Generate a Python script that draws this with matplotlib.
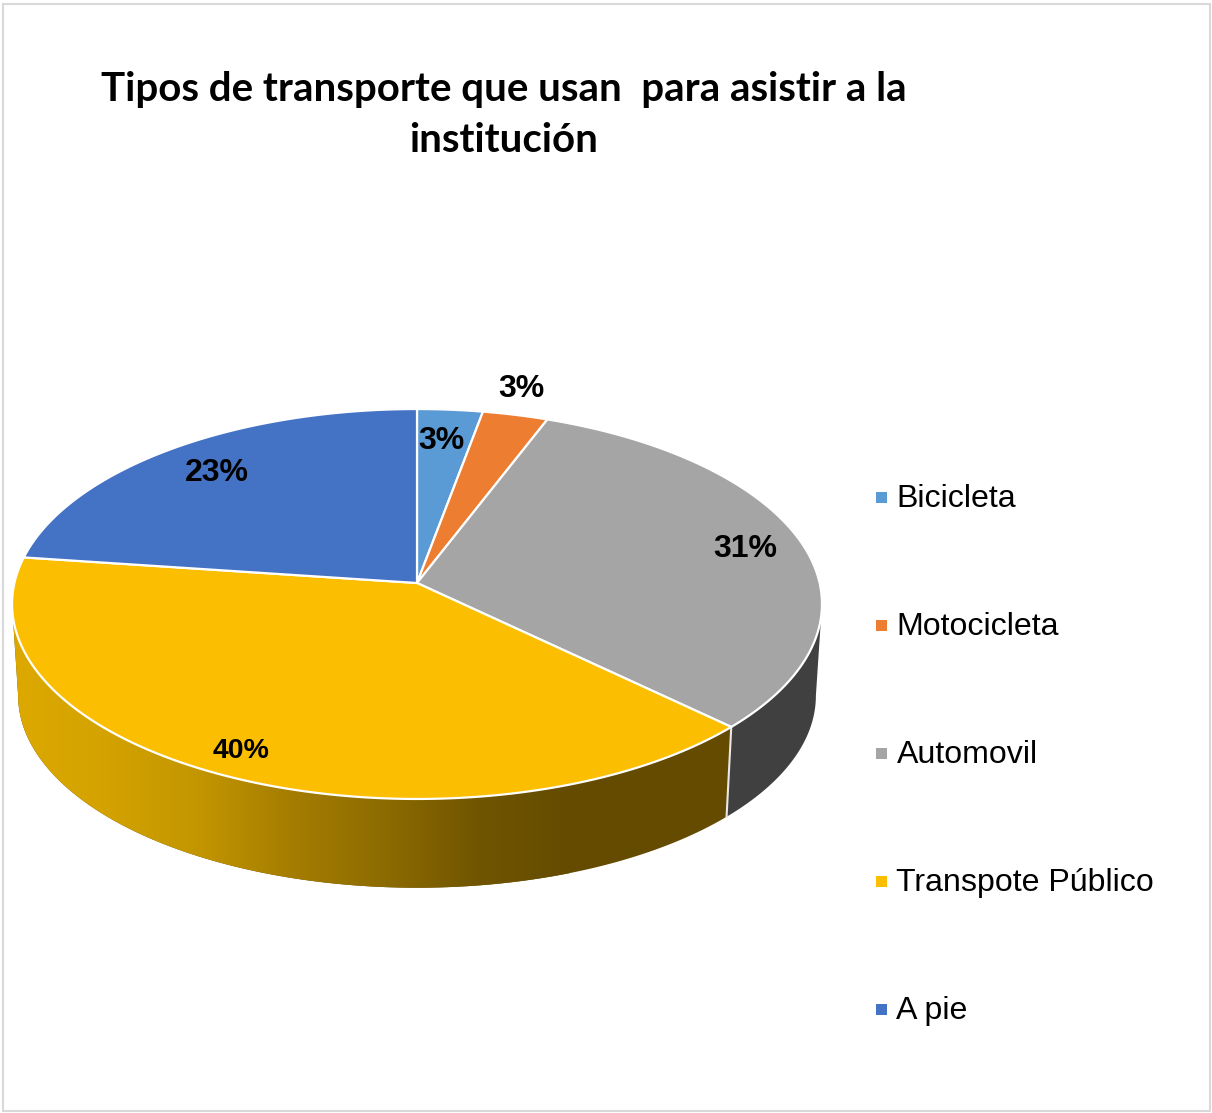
import numpy as np
import matplotlib
matplotlib.use("Agg")
import matplotlib.pyplot as plt
from matplotlib.colors import LinearSegmentedColormap
from matplotlib.patches import Polygon, Rectangle

# data
categories = ["Bicicleta", "Motocicleta", "Automovil", "Transpote Público", "A pie"]
values = [2.9, 2.9, 31.35, 40, 22.85]
labels = ["3%", "3%", "31%", "40%", "23%"]
colors = ["#5B9BD5", "#ED7D31", "#A5A5A5", "#FBBE00", "#4472C4"]
title = "Tipos de transporte que usan  para asistir a la\ninstitución"

# layout (pixels)
W, H = 1212, 1113
CX, CY = 417, 583
A, B, K = 402.6, 192.7, 0.1077
DEPTH, SCALE = 92, 0.985
label_px = [(441, 441), (521, 389), (745, 549), (241, 751), (217, 473)]
label_size = [23, 23, 23, 20.5, 23]
legend_y = [499, 627, 755, 883, 1011]
swatch_y = [497, 625, 753, 881, 1009]

fig = plt.figure(figsize=(W / 100, H / 100), dpi=100, facecolor="white")
ax = fig.add_axes([0, 0, 1, 1])
ax.set_xlim(0, W)
ax.set_ylim(H, 0)
ax.axis("off")


def rim(t_deg, lower=False):
    t = np.radians(np.asarray(t_deg, dtype=float))
    w = 1 + K * np.cos(t)
    x = A * np.sin(t) / w
    y = -B * np.cos(t) / w
    if lower:
        return CX + SCALE * x, CY + SCALE * y + DEPTH
    return CX + x, CY + y


def band(t0, t1):
    t = np.linspace(t0, t1, 200)
    xu, yu = rim(t)
    xl, yl = rim(t, True)
    return np.r_[np.c_[xu, yu], np.c_[xl, yl][::-1]]


ax.add_patch(Rectangle((2.5, 3.5), W - 5, H - 6, fc="white", ec="#D9D9D9", lw=1.5, zorder=0))

edges = 360 * np.cumsum([0] + values) / sum(values)
SIL = np.degrees(np.arccos(-K))  # angle of the widest point of the rim

# side walls: slices 3 (grey) and 4 (gradient yellow) are the visible ones
ax.add_patch(Polygon(band(SIL, edges[3]), closed=True, fc="#404040", ec="none", zorder=1))

grad = LinearSegmentedColormap.from_list(
    "side",
    [(0.0, "#DDA900"), (0.16, "#D4A300"), (0.33, "#C39600"), (0.5, "#A57D00"),
     (0.67, "#8C6B00"), (0.84, "#705500"), (1.0, "#644B00")],
)
yellow_side = Polygon(band(edges[3], 360 - SIL), closed=True, fc="#644B00", ec="none", zorder=1)
ax.add_patch(yellow_side)
im = ax.imshow(np.linspace(0, 1, 256)[None, :], cmap=grad, aspect="auto",
               extent=(12, 570, 900, 560), zorder=1.1)
im.set_clip_path(yellow_side)
ax.set_xlim(0, W)
ax.set_ylim(H, 0)

# divider between the two visible walls
xu, yu = rim(edges[3])
xl, yl = rim(edges[3], True)
ax.plot([xu, xl], [yu, yl], color="#E8E8E8", lw=1.5, zorder=2)

# top face
for i, c in enumerate(colors):
    t = np.linspace(edges[i], edges[i + 1], 200)
    x, y = rim(t)
    pts = np.r_[[[CX, CY]], np.c_[x, y]]
    ax.add_patch(Polygon(pts, closed=True, fc=c, ec="white", lw=1.6, joinstyle="round", zorder=3))

for s, (x, y), fs in zip(labels, label_px, label_size):
    ax.text(x, y, s, ha="center", va="center", fontsize=fs, fontweight="bold",
            family="Liberation Sans", color="black", zorder=4)

for name, c, y, sy in zip(categories, colors, legend_y, swatch_y):
    ax.add_patch(Rectangle((876, sy - 5.5), 11, 11, fc=c, ec="none", zorder=4))
    ax.text(896.5, y, name, ha="left", va="center", fontsize=23.1,
            family="Liberation Sans", color="black", zorder=4)

ax.text(504, 115, title, ha="center", va="center", fontsize=29, fontweight="bold",
        family="Lato", color="black", linespacing=1.49, zorder=4)

fig.savefig("out.png", dpi=100, facecolor="white")
